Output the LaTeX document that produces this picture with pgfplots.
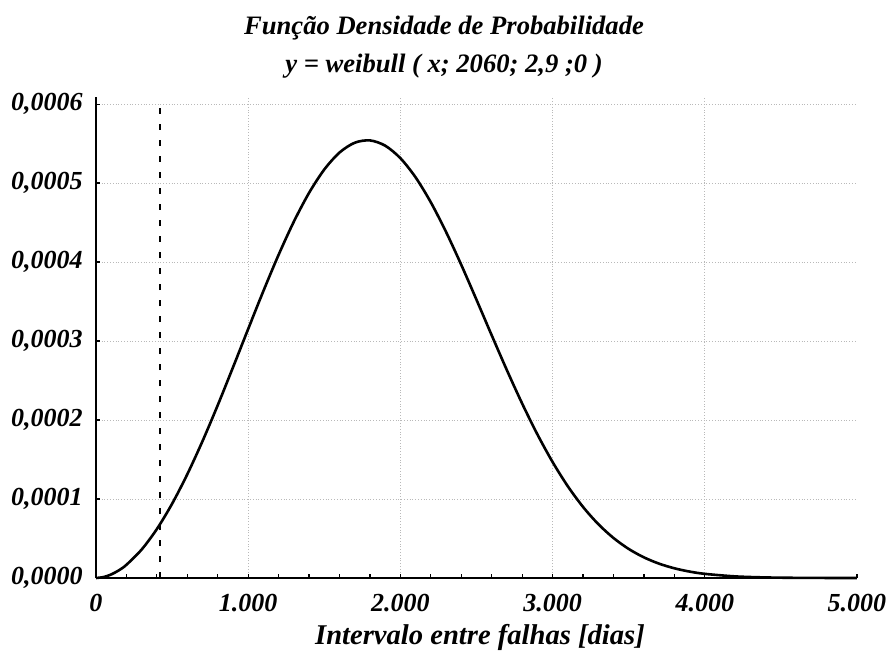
\documentclass[border=0pt]{standalone}
\usepackage{fontspec}
\setmainfont{Liberation Serif}
\usepackage{pgfplots}
\usepackage{pgfplotstable}
\pgfplotsset{compat=1.18}

% Weibull density, scale 2060, shape 2.9 (days vs. density)
\pgfplotstableread{
x     y
0     0
50    1.203e-6
100   4.487e-6
150   9.695e-6
200   1.6736e-5
300   3.6065e-5
400   6.1994e-5
500   9.3991e-5
600   1.31391e-4
700   1.73344e-4
800   2.18834e-4
900   2.66638e-4
1000  3.15352e-4
1100  3.63440e-4
1200  4.09279e-4
1300  4.51220e-4
1400  4.87660e-4
1500  5.17213e-4
1600  5.38665e-4
1700  5.51094e-4
1800  5.54021e-4
1900  5.47385e-4
2000  5.31524e-4
2100  5.07221e-4
2200  4.75618e-4
2300  4.38148e-4
2400  3.96487e-4
2500  3.52285e-4
2600  3.07285e-4
2700  2.63034e-4
2800  2.20883e-4
2900  1.81893e-4
3000  1.46837e-4
3100  1.16150e-4
3200  8.9987e-5
3300  6.8258e-5
3400  5.0674e-5
3500  3.6797e-5
3600  2.6127e-5
3700  1.8132e-5
3800  1.2292e-5
3900  8.136e-6
4000  5.257e-6
4200  2.035e-6
4400  7.12e-7
4600  2.23e-7
4800  6.3e-8
5000  1.6e-8
}\weibulldata

\begin{document}
\begin{tikzpicture}[font=\fontsize{13}{15.6}\selectfont\bfseries\itshape]
\begin{axis}[
  at={(0,0)}, anchor=south west,
  scale only axis,
  width=380.5pt, height=240.5pt,
  xmin=0, xmax=5000,
  ymin=0, ymax=0.000609,
  axis lines=left,
  axis line style={-, line width=0.9pt},
  xtick={0,1000,2000,3000,4000},
  xticklabels={0,{1.000},{2.000},{3.000},{4.000}},
  extra x ticks={5000},
  extra x tick labels={{5.000}},
  extra x tick style={grid=none},
  minor x tick num=4,
  ytick={0,0.0001,0.0002,0.0003,0.0004,0.0005,0.0006},
  yticklabels={{0,0000},{0,0001},{0,0002},{0,0003},{0,0004},{0,0005},{0,0006}},
  scaled y ticks=false,
  tick align=inside,
  major tick length=1.8pt,
  minor tick length=1.8pt,
  tick style={black, line width=0.6pt},
  grid=major,
  grid style={gray!55, densely dotted, line width=0.5pt},
  tick label style={font=\fontsize{13}{15.6}\selectfont\bfseries\itshape},
  xticklabel style={yshift=-4.5pt},
  yticklabel style={xshift=-3.2pt},
  every axis title shift=0pt,
  title={Função Densidade de Probabilidade\\y = weibull ( x; 2060; 2,9 ;0 )},
  title style={align=center, anchor=center, font=\fontsize{13.3}{19}\selectfont\bfseries\itshape,
    at={(axis description cs:0.4573,1.1027)}},
  xlabel={Intervalo entre falhas [dias]},
  xlabel style={anchor=center, font=\fontsize{14.3}{17}\selectfont\bfseries\itshape,
    at={(axis description cs:0.5046,-0.1227)}},
  clip=false,
]
\addplot[black, line width=1.3pt, smooth] table[x=x, y=y] {\weibulldata};
\addplot[black, line width=1pt, dash pattern=on 3pt off 5pt] coordinates {(422,0) (422,0.000601)};
\end{axis}
\pgfresetboundingbox
\path[use as bounding box] (-48pt,-38pt) rectangle (396pt,289pt);
\end{tikzpicture}
\end{document}
